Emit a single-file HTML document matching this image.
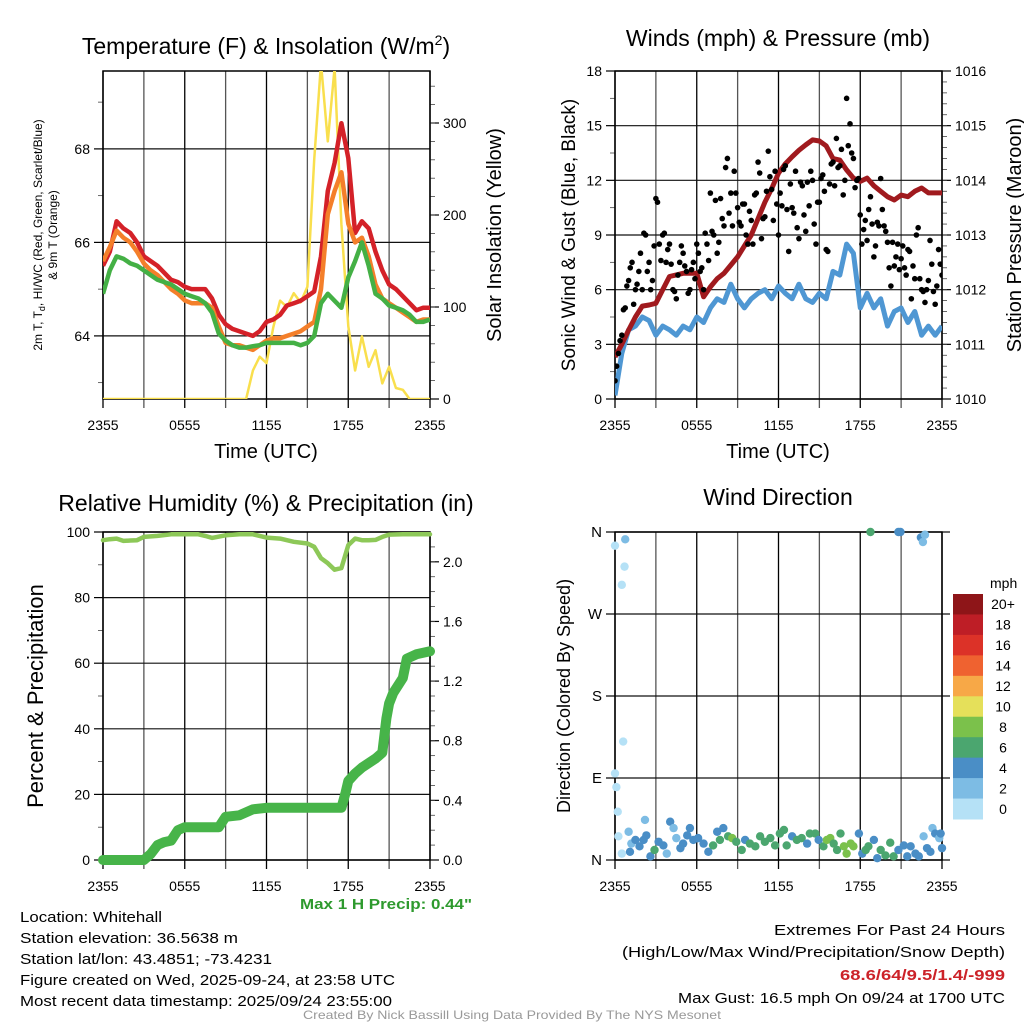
<!DOCTYPE html>
<html><head><meta charset="utf-8"><style>
html,body{margin:0;padding:0;background:#fff;}
svg{display:block;font-family:"Liberation Sans",sans-serif;}
</style></head><body>
<svg id="fig" width="1024" height="1024" viewBox="0 0 1024 1024" xmlns="http://www.w3.org/2000/svg">
<defs>
<clipPath id="c1"><rect x="103" y="71" width="327" height="328"/></clipPath>
<clipPath id="c2"><rect x="615" y="71" width="327" height="328"/></clipPath>
<clipPath id="c3"><rect x="97" y="526" width="340" height="340"/></clipPath>
<clipPath id="c4"><rect x="600" y="526" width="348" height="340"/></clipPath>
</defs>
<g id="root"></g>
<!-- titles -->
<text x="266" y="54" font-size="23" text-anchor="middle">Temperature (F) &amp; Insolation (W/m<tspan font-size="14" dy="-9">2</tspan><tspan dy="9">)</tspan></text>
<text x="778" y="46" font-size="23" text-anchor="middle">Winds (mph) &amp; Pressure (mb)</text>
<text x="266" y="511" font-size="23" text-anchor="middle">Relative Humidity (%) &amp; Precipitation (in)</text>
<text x="778" y="505" font-size="23" text-anchor="middle">Wind Direction</text>
<!-- axis titles -->
<text transform="translate(42,235) rotate(-90)" font-size="12" text-anchor="middle">2m T, T<tspan font-size="9" dy="3">d</tspan><tspan dy="-3">, HI/WC (Red, Green, Scarlet/Blue)</tspan></text>
<text transform="translate(57,235) rotate(-90)" font-size="12" text-anchor="middle">&amp; 9m T (Orange)</text>
<text transform="translate(501,235) rotate(-90)" font-size="20" text-anchor="middle">Solar Insolation (Yellow)</text>
<text x="266" y="458" font-size="20" text-anchor="middle">Time (UTC)</text>
<text transform="translate(575,235) rotate(-90)" font-size="19" text-anchor="middle">Sonic Wind &amp; Gust (Blue, Black)</text>
<text transform="translate(1021,235) rotate(-90)" font-size="20" text-anchor="middle">Station Pressure (Maroon)</text>
<text x="778" y="458" font-size="20" text-anchor="middle">Time (UTC)</text>
<text transform="translate(43,696) rotate(-90)" font-size="22" text-anchor="middle">Percent &amp; Precipitation</text>
<text transform="translate(570,696) rotate(-90)" font-size="18" text-anchor="middle">Direction (Colored By Speed)</text>
<!-- footer text -->
<text x="472" y="909" font-size="15" font-weight="bold" fill="#2e9a2e" text-anchor="end" textLength="172" lengthAdjust="spacingAndGlyphs">Max 1 H Precip: 0.44"</text>
<g font-size="15">
<text x="20" y="922" textLength="142" lengthAdjust="spacingAndGlyphs">Location: Whitehall</text>
<text x="20" y="943" textLength="218" lengthAdjust="spacingAndGlyphs">Station elevation: 36.5638 m</text>
<text x="20" y="964" textLength="252" lengthAdjust="spacingAndGlyphs">Station lat/lon: 43.4851; -73.4231</text>
<text x="20" y="985" textLength="375" lengthAdjust="spacingAndGlyphs">Figure created on Wed, 2025-09-24, at 23:58 UTC</text>
<text x="20" y="1006" textLength="372" lengthAdjust="spacingAndGlyphs">Most recent data timestamp: 2025/09/24 23:55:00</text>
</g>
<g font-size="15" text-anchor="end">
<text x="1005" y="935" textLength="231" lengthAdjust="spacingAndGlyphs">Extremes For Past 24 Hours</text>
<text x="1005" y="957" textLength="383" lengthAdjust="spacingAndGlyphs">(High/Low/Max Wind/Precipitation/Snow Depth)</text>
<text x="1005" y="980" fill="#cc2229" font-weight="bold" textLength="165" lengthAdjust="spacingAndGlyphs">68.6/64/9.5/1.4/-999</text>
<text x="1005" y="1003" textLength="327" lengthAdjust="spacingAndGlyphs">Max Gust: 16.5 mph On 09/24 at 1700 UTC</text>
</g>
<text x="512" y="1019" font-size="12" fill="#999" text-anchor="middle" textLength="418" lengthAdjust="spacingAndGlyphs">Created By Nick Bassill Using Data Provided By The NYS Mesonet</text>
</svg>
<script>
// ---------- data ----------
const halfHours = [0,0.5,1,1.5,2,2.5,3,3.5,4,4.5,5,5.5,6,6.5,7,7.5,8,8.5,9,9.5,10,10.5,11,11.5,12,12.5,13,13.5,14,14.5,15,15.5,16,16.5,17,17.5,18,18.5,19,19.5,20,20.5,21,21.5,22,22.5,23,23.5,24];
const xTickLabels = ["2355","0555","1155","1755","2355"];
const tempRed = [65.5,65.8,66.45,66.3,66.2,66.0,65.7,65.6,65.5,65.35,65.2,65.15,65.05,65.0,65.0,65.0,64.8,64.45,64.25,64.15,64.1,64.05,64.0,64.1,64.3,64.35,64.45,64.65,64.7,64.75,64.85,64.95,65.7,67.1,67.7,68.55,67.8,66.2,66.45,66.3,65.8,65.4,65.1,65.0,64.85,64.7,64.55,64.6,64.6];
const temp9m = [65.6,65.9,66.25,66.1,66.0,65.8,65.55,65.4,65.3,65.15,65.0,64.9,64.76,64.7,64.7,64.7,64.6,64.2,63.85,63.8,63.8,63.75,63.7,63.8,63.9,63.95,63.95,64.0,64.05,64.1,64.2,64.3,65.0,66.6,67.1,67.5,66.4,66.0,66.1,65.7,65.1,64.8,64.7,64.6,64.5,64.4,64.3,64.35,64.35];
const dewpoint = [64.9,65.4,65.7,65.65,65.55,65.5,65.4,65.3,65.2,65.15,65.1,65.0,64.9,64.85,64.8,64.7,64.5,64.05,63.9,63.8,63.75,63.75,63.78,63.8,63.85,63.85,63.85,63.85,63.85,63.8,63.85,64.0,64.7,64.9,64.75,64.6,65.25,65.6,66.0,65.5,64.9,64.8,64.65,64.6,64.55,64.45,64.3,64.3,64.35];
const solar = [0,0,0,0,0,0,0,0,0,0,0,0,0,0,0,0,0,0,0,0,0,0,31,46,39,78,107,100,115,105,122,260,365,280,360,190,79,31,68,35,53,17,35,12,10,0,0,0,0];
const tempTicks = [64,66,68];
const solarTicks = [0,100,200,300];

const windSpeed = [0.2,2.5,3.8,4.0,4.5,4.3,3.5,4.0,3.8,3.5,4.0,3.8,4.5,4.2,5.0,5.5,5.3,6.3,5.5,5.0,5.5,5.8,6.0,5.5,6.2,5.8,5.5,6.3,5.5,5.3,5.8,5.5,7.0,6.8,8.5,8.0,5.0,5.8,5.0,5.5,4.0,4.8,5.0,4.2,4.8,3.5,4.0,3.5,4.0];
const pressure = [1010.77,1011.0,1011.26,1011.5,1011.7,1011.72,1011.75,1012.0,1012.24,1012.27,1012.3,1012.3,1012.3,1011.87,1012.05,1012.2,1012.3,1012.45,1012.6,1012.8,1013.0,1013.3,1013.6,1013.85,1014.13,1014.3,1014.43,1014.55,1014.65,1014.74,1014.72,1014.63,1014.4,1014.37,1014.19,1014.04,1013.98,1014.04,1013.9,1013.8,1013.7,1013.64,1013.73,1013.7,1013.8,1013.86,1013.77,1013.77,1013.77];
const gustTimes = [0,0.25,0.5,0.75,1,1.25,1.5,1.75,2,2.25,2.5,2.75,3,3.25,3.5,3.75,4,4.25,4.5,4.75,5,5.25,5.5,5.75,6,6.25,6.5,6.75,7,7.25,7.5,7.75,8,8.25,8.5,8.75,9,9.25,9.5,9.75,10,10.25,10.5,10.75,11,11.25,11.5,11.75,12,12.25,12.5,12.75,13,13.25,13.5,13.75,14,14.25,14.5,14.75,15,15.25,15.5,15.75,16,16.25,16.5,16.75,17,17.25,17.5,17.75,18,18.25,18.5,18.75,19,19.25,19.5,19.75,20,20.25,20.5,20.75,21,21.25,21.5,21.75,22,22.25,22.5,22.75,23,23.25,23.5,23.75,24];
const gustA = [1,2.5,3.5,5,6.5,7.5,6,7,6,9,7.5,6.5,11,8.5,9,7.5,8.5,6,5.5,7.5,8,7,6,7.5,8.5,7,6,8.5,11.3,9,8,11,9.5,13.2,11.3,12.5,10.5,9.5,10.7,8.5,9.8,11.2,13,8.8,10,13.6,11.5,12.5,9,10.6,12.8,8.1,10.5,12.5,8.8,11.7,9.2,10.6,12.0,8.5,10.8,12.3,8.2,11.8,13.0,14.3,12.8,11.2,16.5,15.1,13.2,12.0,10.1,9.3,8.7,11.1,7.8,9.7,12.1,9.5,8.6,6.2,7.3,8.5,7.7,7.2,8.2,5.5,6.6,9.4,6.0,5.3,6.5,7.4,5.2,8.2,6.8];
const gustTimesB = [0.12,0.37,0.62,0.87,1.12,1.37,1.62,1.87,2.12,2.37,2.62,2.87,3.12,3.37,3.62,3.87,4.12,4.37,4.62,4.87,5.12,5.37,5.62,5.87,6.12,6.37,6.62,6.87,7.12,7.37,7.62,7.87,8.12,8.37,8.62,8.87,9.12,9.37,9.62,9.87,10.12,10.37,10.62,10.87,11.12,11.37,11.62,11.87,12.12,12.37,12.62,12.87,13.12,13.37,13.62,13.87,14.12,14.37,14.62,14.87,15.12,15.37,15.62,15.87,16.12,16.37,16.62,16.87,17.12,17.37,17.62,17.87,18.12,18.37,18.62,18.87,19.12,19.37,19.62,19.87,20.12,20.37,20.62,20.87,21.12,21.37,21.62,21.87,22.12,22.37,22.62,22.87,23.12,23.37,23.62,23.87];
const gustB = [1.8,3.2,4.9,6.2,7.2,5.2,6.3,8.0,9.1,7.0,6.0,8.4,10.8,7.6,9.1,8.2,7.4,5.9,6.8,8.4,7.3,5.8,7.1,6.6,8.0,7.2,9.1,7.6,9.2,10.9,8.6,9.9,12.7,10.2,9.5,11.3,9.7,10.7,9.0,10.3,8.5,11.3,12.4,9.9,11.4,12.2,9.8,10.7,11.3,12.6,10.4,11.8,10.2,9.4,11.9,10.1,11.9,12.5,9.6,10.8,12.1,11.4,8.1,12.9,11.7,12.7,13.7,12.0,13.9,13.5,11.6,12.1,8.5,9.8,10.4,9.6,8.4,9.5,10.4,9.2,7.2,8.6,7.8,7.1,8.4,6.8,8.1,7.3,9.0,6.6,5.9,6.0,8.7,5.9,6.2,7.4];
const windTicks = [0,3,6,9,12,15,18];
const pressureTicks = [1010,1011,1012,1013,1014,1015,1016];

const rhTimes = [0,0.5,1,1.5,2,2.5,3,4,5,6,7,7.5,8,9,10,11,12,13,14,15,15.5,16,16.5,17,17.5,18,18.5,19,19.5,20,20.5,21,22,23,24];
const rhValues = [97.5,97.8,98,97.3,97.4,97.5,98.5,98.8,99.3,99.3,99.3,98.8,98.2,99,99.3,99.3,98.3,98,97,96.5,95.5,92,90.5,88.5,89,96,98,97.5,97.5,97.6,98.5,99.2,99.3,99.3,99.3];
const precipTimes = [0,3,3.5,4,4.5,5,5.5,6,8.5,9,10,11,12,17.5,17.8,18,18.5,19,20,20.5,20.8,21,21.3,22,22.3,23,24];
const precipValues = [0,0,0.04,0.1,0.12,0.13,0.2,0.22,0.22,0.29,0.3,0.34,0.35,0.35,0.45,0.53,0.58,0.62,0.68,0.72,0.95,1.05,1.12,1.22,1.35,1.38,1.4];
const rhTicks = [0,20,40,60,80,100];
const precipTicks = [0.0,0.4,0.8,1.2,1.6,2.0];

const dirTimes = [0,0.75,0.7,0.5,0.6,0,0.1,0.2,0.25,0.5,1.0,1.2,1.5,1.1,1.8,2.1,2.2,2.3,2.6,2.9,3.2,3.55,3.8,4.05,4.3,4.5,4.8,5.0,5.3,5.5,5.75,6.1,6.5,6.85,7.2,7.5,7.7,7.95,8.3,8.6,8.9,9.3,9.55,9.9,10.3,10.65,11.0,11.4,11.75,12.1,12.4,12.6,13.0,13.35,13.7,14.1,14.3,14.7,14.95,15.3,15.55,15.8,16.05,16.3,16.55,16.8,17.0,17.3,17.5,17.9,18.15,18.4,18.6,19.0,19.25,19.5,19.85,20.2,20.45,20.8,21.2,21.45,21.7,22.05,22.3,22.65,22.9,23.15,23.3,23.5,23.8,23.9,24.0,18.75,20.8,20.95,22.45,22.6,22.75];
const dirValues = [345,352,322,302,130,95,80,53,26,7,31,18,22,9,15,22,44,27,4,11,20,16,7,42,35,24,13,18,27,35,22,24,18,9,16,31,22,35,26,24,20,11,22,18,15,26,20,24,16,29,33,16,26,22,24,18,29,29,22,15,22,24,18,11,29,15,7,18,15,29,7,11,15,22,2,11,5,19,4,11,16,4,15,7,4,26,13,9,35,29,24,29,13,360,360,360,354,349,357];
const dirSpeeds = [1,3,1,1,1,1,1,1,1,0.5,2.5,2.5,4.5,4.5,4.5,4.5,2.5,4.5,4.5,6.5,4.5,4.5,2.5,4.5,2.5,2.5,4.5,4.5,4.5,4.5,4.5,4.5,4.5,4.5,6.5,4.5,6.5,4.5,6.5,8.5,6.5,6.5,4.5,6.5,6.5,6.5,6.5,6.5,6.5,6.5,6.5,6.5,4.5,6.5,6.5,4.5,6.5,6.5,4.5,6.5,8.5,8.5,6.5,6.5,6.5,8.5,8.5,8.5,8.5,4.5,4.5,6.5,6.5,4.5,4.5,6.5,6.5,6.5,6.5,4.5,4.5,4.5,4.5,4.5,4.5,2.5,4.5,4.5,2.5,4.5,2.5,4.5,4.5,6.5,4.5,4.5,4.5,2.5,2.5];
const dirTickLabels = ["N","E","S","W","N"];
const dirTicks = [0,90,180,270,360];
const speedBins = ["0","2","4","6","8","10","12","14","16","18","20+"];
const speedColors = ["#b5e1f6","#7dbce4","#4a8ec6","#4ba66f","#7bc14b","#e5e05a","#f7a847","#ef6230","#dc3228","#be1e26","#8e1518"];

// ---------- helpers ----------
const NS="http://www.w3.org/2000/svg";
const root=document.getElementById('root');
function mk(tag,attrs,parent){const e=document.createElementNS(NS,tag);for(const k in attrs)e.setAttribute(k,attrs[k]);(parent||root).appendChild(e);return e;}
function linePath(xs,ys,fx,fy){return xs.map((t,i)=>(i?'L':'M')+fx(t).toFixed(1)+','+fy(ys[i]).toFixed(1)).join('');}

function frame(px,py,pw,ph,name){
  const g=mk('g',{});
  
  
  for(let h=0;h<=24;h+=3){
    const x=px+h*pw/24;
    const l=mk('line',{x1:x,y1:py,x2:x,y2:py+ph+9,stroke:(h%6===0)?'#000':'#555','stroke-width':1.3},g);
    
    
  }
  xTickLabels.forEach((lab,i)=>{
    const t=mk('text',{x:px+i*pw/4,y:py+ph+31,'font-size':14,'text-anchor':'middle'},g);
    t.textContent=lab;
    
    
  });
  return g;
}
function yAxis(g,vals,fy,x0,x1,side,labels,fmt,minor,gridFrom,gridTo,fs){
  vals.forEach((v,i)=>{
    const y=fy(v);
    if(gridFrom!==undefined){
      const gl=mk('line',{x1:gridFrom,y1:y,x2:gridTo,y2:y,stroke:'#111','stroke-width':1.2},g);
      
      
    }
    const tk=mk('line',{x1:side<0?x0-9:x0,y1:y,x2:side<0?x0:x0+9,y2:y,stroke:'#000','stroke-width':1.2},g);
    
    
    const t=mk('text',{x:side<0?x0-13:x0+13,y:y+5,'font-size':fs||14,'text-anchor':side<0?'end':'start'},g);
    t.textContent=labels?labels[i]:fmt(v);
    
    
  });
  (minor||[]).forEach(v=>{
    const y=fy(v);
    const tk=mk('line',{x1:side<0?x0-5:x0,y1:y,x2:side<0?x0:x0+5,y2:y,stroke:'#444','stroke-width':0.8},g);
    
    
  });
}
function border(g,px,py,pw,ph){
  const r=mk('rect',{x:px,y:py,width:pw,height:ph,fill:'none',stroke:'#000','stroke-width':1.5},g);
  
  
}
function range(a,b,s){const o=[];for(let v=a;v<=b+1e-9;v+=s)o.push(+v.toFixed(3));return o;}

// ---------- panel 1 ----------
const P1={x:103,y:71,w:327,h:328};
const x1=h=>P1.x+h*P1.w/24;
const yT=t=>399-(t-62.65)*46.75;
const yS=s=>399-s*0.92;
const g1=frame(P1.x,P1.y,P1.w,P1.h,'temperature');
yAxis(g1,tempTicks,yT,P1.x,0,-1,null,v=>String(v),[63,65,67,69],P1.x,P1.x+P1.w);
yAxis(g1,solarTicks,yS,P1.x+P1.w,0,1,null,v=>String(v),range(20,340,20));
const d1=mk('g',{'clip-path':'url(#c1)',fill:'none','stroke-linejoin':'round'});


const sSolar=mk('path',{d:linePath(halfHours,solar,x1,yS),stroke:'#f9df4d','stroke-width':2.5},d1);


const sRed=mk('path',{d:linePath(halfHours,tempRed,x1,yT),stroke:'#d42128','stroke-width':4.5},d1);


const sOr=mk('path',{d:linePath(halfHours,temp9m,x1,yT),stroke:'#f47f2a','stroke-width':4.5},d1);


const sGr=mk('path',{d:linePath(halfHours,dewpoint,x1,yT),stroke:'#44b045','stroke-width':4.5},d1);


border(g1,P1.x,P1.y,P1.w,P1.h);

// ---------- panel 2 ----------
const P2={x:615,y:71,w:327,h:328};
const x2=h=>P2.x+h*P2.w/24;
const yW=w=>399-w*328/18;
const yP=p=>399-(p-1010)*328/6;
const g2=frame(P2.x,P2.y,P2.w,P2.h,'wind');
yAxis(g2,windTicks,yW,P2.x,0,-1,null,v=>String(v),range(1.5,16.5,3),P2.x,P2.x+P2.w);
yAxis(g2,pressureTicks,yP,P2.x+P2.w,0,1,null,v=>String(v),range(1010.2,1015.8,0.2));
const d2=mk('g',{'clip-path':'url(#c2)','stroke-linejoin':'round'});


const sW=mk('path',{d:linePath(halfHours,windSpeed,x2,yW),stroke:'#4f97d3','stroke-width':5,fill:'none'},d2);


const sP=mk('path',{d:linePath(halfHours,pressure,x2,yP),stroke:'#a01a1e','stroke-width':5,fill:'none'},d2);


gustTimes.forEach((t,i)=>{
  const c=mk('circle',{cx:x2(t),cy:yW(gustA[i]),r:2.8,fill:'#000'},d2);
  
  
});
gustTimesB.forEach((t,i)=>{
  const c=mk('circle',{cx:x2(t),cy:yW(gustB[i]),r:2.8,fill:'#000'},d2);
  
  
});
border(g2,P2.x,P2.y,P2.w,P2.h);

// ---------- panel 3 ----------
const P3={x:103,y:532,w:327,h:328};
const x3=h=>P3.x+h*P3.w/24;
const yRH=r=>860-r*3.28;
const yPr=p=>860-p*328/2.2;
const g3=frame(P3.x,P3.y,P3.w,P3.h,'humidity');
yAxis(g3,rhTicks,yRH,P3.x,0,-1,null,v=>String(v),range(10,90,20),P3.x,P3.x+P3.w);
yAxis(g3,precipTicks,yPr,P3.x+P3.w,0,1,null,v=>v.toFixed(1),range(0.1,2.1,0.1));
const d3=mk('g',{'clip-path':'url(#c3)',fill:'none','stroke-linejoin':'round','stroke-linecap':'round'});


const sRH=mk('path',{d:linePath(rhTimes,rhValues,x3,yRH),stroke:'#8dc858','stroke-width':4.5},d3);


const sPr=mk('path',{d:linePath(precipTimes,precipValues,x3,yPr),stroke:'#47b449','stroke-width':10},d3);


border(g3,P3.x,P3.y,P3.w,P3.h);

// ---------- panel 4 ----------
const P4={x:615,y:532,w:327,h:328};
const x4=h=>P4.x+h*P4.w/24;
const yD=d=>860-d*328/360;
const g4=frame(P4.x,P4.y,P4.w,P4.h,'wind-direction');
yAxis(g4,dirTicks,yD,P4.x,0,-1,dirTickLabels,null,[],P4.x,P4.x+P4.w+8,15);
const d4=mk('g',{'clip-path':'url(#c4)'});


function speedColor(s){let i=Math.floor(s/2);if(i>10)i=10;return speedColors[i];}
dirTimes.forEach((t,i)=>{
  const c=mk('circle',{cx:x4(t),cy:yD(dirValues[i]),r:4.2,fill:speedColor(dirSpeeds[i])},d4);
  
  
});
border(g4,P4.x,P4.y,P4.w,P4.h);
// legend
const lg=mk('g',{});


const lt=mk('text',{x:990,y:588,'font-size':14},lg);
lt.textContent='mph';


const boxH=225/11;
speedBins.forEach((lab,i)=>{
  const k=10-i;
  const y=594+i*boxH;
  const r=mk('rect',{x:953,y:y,width:30,height:boxH+0.5,fill:speedColors[k]},lg);
  
  
  const t=mk('text',{x:1003,y:y+boxH/2+5,'font-size':14,'text-anchor':'middle'},lg);
  t.textContent=speedBins[k];
  
  
});
</script>
</body></html>
